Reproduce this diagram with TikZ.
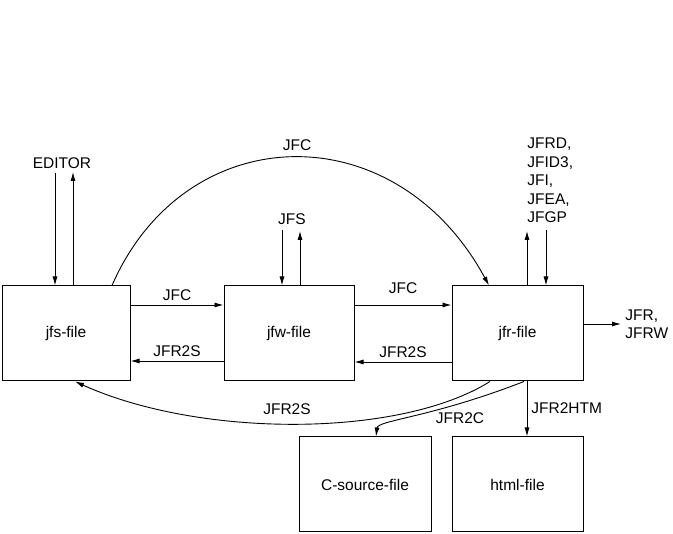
\documentclass[tikz,border=0pt]{standalone}
\usepackage{fontspec}
\setmainfont{Liberation Sans}
\usetikzlibrary{arrows.meta}
\newcommand{\lblfont}{\fontsize{15.5}{18.5}\selectfont}
\begin{document}
\begin{tikzpicture}[x=1pt,y=-1pt,line width=0.9pt,
  >={Latex[length=9pt,width=5pt]},
  filebox/.style={draw,line width=1pt,minimum height=95pt,inner sep=0pt,font=\lblfont},
  lbl/.style={inner sep=0pt,font=\lblfont}]
\useasboundingbox (0,0) rectangle (673,534);
% boxes
\node[filebox,minimum width=128pt] (jfs) at (66,333.5) {jfs-file};
\node[filebox,minimum width=130pt] (jfw) at (289,333.5) {jfw-file};
\node[filebox,minimum width=131pt] (jfr) at (517.5,333.5) {jfr-file};
\node[filebox,minimum width=132pt] (csrc) at (365,484.5) {C-source-file};
\node[filebox,minimum width=131pt] (html) at (517.5,484.5) {html-file};
% free labels
\node[lbl] (editor) at (62,163) {EDITOR};
\node[lbl] (jfs-l) at (292,219) {JFS};
\node[lbl,align=left,anchor=north west] (jfrd) at (527,137.5) {JFRD,\\JFID3,\\JFI,\\JFEA,\\JFGP};
\node[lbl,align=left,anchor=west] (jfrw) at (625,324) {JFR,\\JFRW};
% end points near labels
\coordinate (e1) at (55,173);
\coordinate (e2) at (73,172);
\coordinate (s1) at (282,230);
\coordinate (s2) at (300,231);
\coordinate (r1) at (527,231);
\coordinate (r2) at (546,230);
% vertical arrows
\draw[->] (e1) -- (e1 |- jfs.north);
\draw[->] (e2 |- jfs.north) -- (e2);
\draw[->] (s1) -- (s1 |- jfw.north);
\draw[->] (s2 |- jfw.north) -- (s2);
\draw[->] (r1 |- jfr.north) -- (r1);
\draw[->] (r2) -- (r2 |- jfr.north);
% horizontal arrows
\draw[->] ([yshift=28.5pt]jfs.east) -- node[lbl,above=4pt]{JFC} ([yshift=28.5pt]jfw.west);
\draw[->] ([yshift=-27.5pt]jfw.west) -- node[lbl,above=4pt]{JFR2S} ([yshift=-27.5pt]jfs.east);
\draw[->] ([yshift=28.5pt]jfw.east) -- node[lbl,above=11pt]{JFC} ([yshift=28.5pt]jfr.west);
\draw[->] ([yshift=-28.5pt]jfr.west) -- node[lbl,above=4pt]{JFR2S} ([yshift=-28.5pt]jfw.east);
\draw[->] ([yshift=9.5pt]jfr.east) -- ([xshift=-4pt]jfrw.west);
% curves
\draw[->] ([xshift=46pt]jfs.north) .. controls (185,118) and (395,112) .. ([xshift=-28.5pt]jfr.north);
\node[lbl] (jfc-top) at (297,145) {JFC};
\draw[->] ([xshift=-27.5pt]jfr.south) .. controls (400,438) and (200,438) .. ([xshift=9pt]jfs.south);
\node[lbl] (jfr2s-low) at (287,409) {JFR2S};
\draw[->] ([xshift=6.5pt]jfr.south) .. controls (430,418) and (378,420) .. ([xshift=11pt]csrc.north);
\node[lbl] (jfr2c) at (460,418) {JFR2C};
\draw[->] ([xshift=9.5pt]jfr.south) -- ([xshift=9.5pt]html.north);
\node[lbl,anchor=west] (jfr2htm) at (531,408) {JFR2HTM};
\end{tikzpicture}
\end{document}
